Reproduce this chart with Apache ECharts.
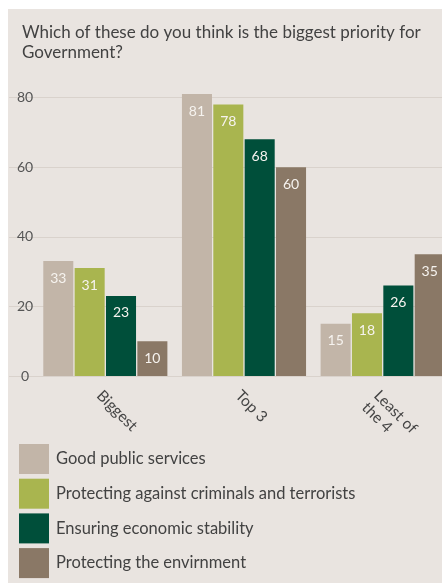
<!DOCTYPE html>
<html>
<head>
<meta charset="utf-8">
<script src="https://cdn.jsdelivr.net/npm/echarts@6/dist/echarts.min.js"></script>
<style>
  html, body { margin: 0; padding: 0; background: #ffffff; overflow: hidden; }
  #panel { position: absolute; left: 8px; top: 9px; width: 434px; height: 574px; background: #e9e4e0; }
  #chart { position: absolute; left: 0; top: 0; width: 452px; height: 583px; }
</style>
</head>
<body>
<div id="panel"></div>
<div id="chart"></div>
<script>
// Survey: biggest priority for Government (%)
const categories = ['Biggest', 'Top 3', 'Least of\nthe 4'];
const seriesNames = [
  'Good public services',
  'Protecting against criminals and terrorists',
  'Ensuring economic stability',
  'Protecting the envirnment'
];
const goodPublicServices = [33, 81, 15];
const protectingAgainstCrime = [31, 78, 18];
const economicStability = [23, 68, 26];
const protectingEnvironment = [10, 60, 35];
const yTicks = [0, 20, 40, 60, 80];

const colors = ['#c2b5a8', '#a9b54f', '#004f3a', '#8a7866'];
const seriesData = [goodPublicServices, protectingAgainstCrime, economicStability, protectingEnvironment];
const FONT = 'Lato, "Open Sans", sans-serif';
const gridColor = '#d9d2cc';

const chart = echarts.init(document.getElementById('chart'), null, { renderer: 'canvas' });

chart.setOption({
  backgroundColor: 'transparent',
  animation: false,
  textStyle: { fontFamily: FONT },
  title: {
    text: 'Which of these do you think is the biggest priority for\nGovernment?',
    left: 22,
    top: 23,
    padding: 0,
    textStyle: { fontFamily: FONT, fontSize: 17, fontWeight: 'normal', color: '#424242', lineHeight: 19.5 }
  },
  legend: {
    orient: 'vertical',
    left: 19,
    top: 444,
    padding: 0,
    itemWidth: 30,
    itemHeight: 30,
    itemGap: 4.7,
    icon: 'rect',
    selectedMode: false,
    data: seriesNames,
    textStyle: { fontFamily: FONT, fontSize: 16.5, color: '#424242', padding: [0, 0, 0, 2] }
  },
  grid: { left: 36, right: 0, top: 97.5, bottom: 207, containLabel: false },
  xAxis: {
    type: 'category',
    data: categories,
    axisLine: { show: true, lineStyle: { color: gridColor, width: 1 } },
    axisTick: { show: false },
    axisLabel: {
      rotate: -45,
      margin: 11,
      align: 'left',
      verticalAlign: 'top',
      fontFamily: FONT,
      fontSize: 15.5,
      color: '#454545',
      lineHeight: 17
    }
  },
  yAxis: {
    type: 'value',
    min: yTicks[0],
    max: yTicks[yTicks.length - 1],
    interval: 20,
    axisLine: { show: false },
    axisTick: { show: true, length: 27, lineStyle: { color: gridColor } },
    splitLine: { show: true, lineStyle: { color: gridColor, width: 1 } },
    axisLabel: {
      align: 'center',
      margin: 11,
      fontFamily: FONT,
      fontSize: 14,
      color: '#555'
    }
  },
  series: seriesNames.map((name, i) => ({
    name: name,
    type: 'bar',
    data: seriesData[i],
    clip: false,
    barGap: '4.4%',
    barCategoryGap: '10.5%',
    itemStyle: { color: colors[i] },
    label: {
      show: true,
      position: 'insideTop',
      distance: 10,
      fontFamily: FONT,
      fontSize: 14,
      color: '#f6f3ef'
    }
  }))
});
</script>
</body>
</html>
